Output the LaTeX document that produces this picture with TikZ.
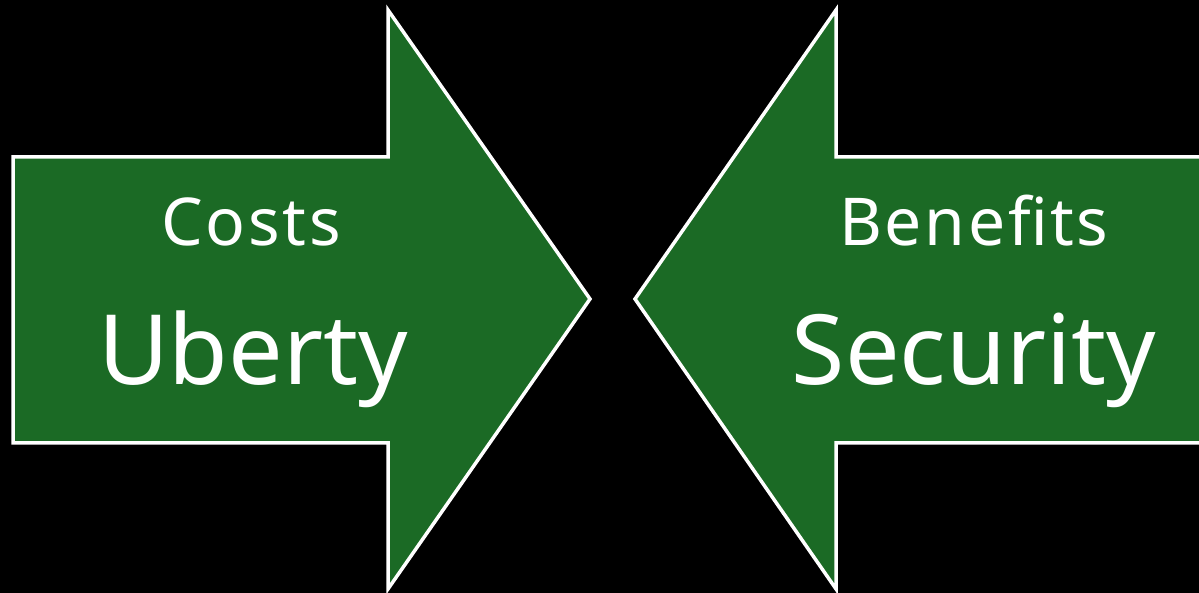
\documentclass[tikz,border=0pt]{standalone}
\usepackage{fontspec}
\setmainfont{Noto Sans}
\usepackage{xcolor}
\definecolor{arrowgreen}{RGB}{27,106,37}

\begin{document}
\begin{tikzpicture}[x=1pt,y=1pt,
    arrowshape/.style={fill=arrowgreen,draw=white,line width=3.5pt,line join=miter},
    smalllabel/.style={text=white,font=\fontsize{66}{70}\selectfont\addfontfeatures{LetterSpace=4},anchor=base,inner sep=0pt},
    biglabel/.style={text=white,font=\fontsize{97}{100}\selectfont,anchor=base,inner sep=0pt}]
    % background
    \fill[black] (0,0) rectangle (1199,593);
    \useasboundingbox (0,0) rectangle (1199,593);
    \clip (0,0) rectangle (1199,593);
    % left arrow
    \draw[arrowshape] (13,150) -- (13,436) -- (388,436) -- (388,583) -- (590,294)
        -- (388,4) -- (388,150) -- cycle;
    % right arrow
    \draw[arrowshape] (1215,150) -- (1215,436) -- (836,436) -- (836,583) -- (635,294)
        -- (836,4) -- (836,150) -- cycle;
    % labels
    \node[smalllabel] (costs) at (251,347) {Costs};
    \node[biglabel] (uberty) at (253,208) {Uberty};
    \node[smalllabel] (benefits) at (974,347) {Benefits};
    \node[biglabel] (security) at (974,208) {Security};
\end{tikzpicture}
\end{document}
